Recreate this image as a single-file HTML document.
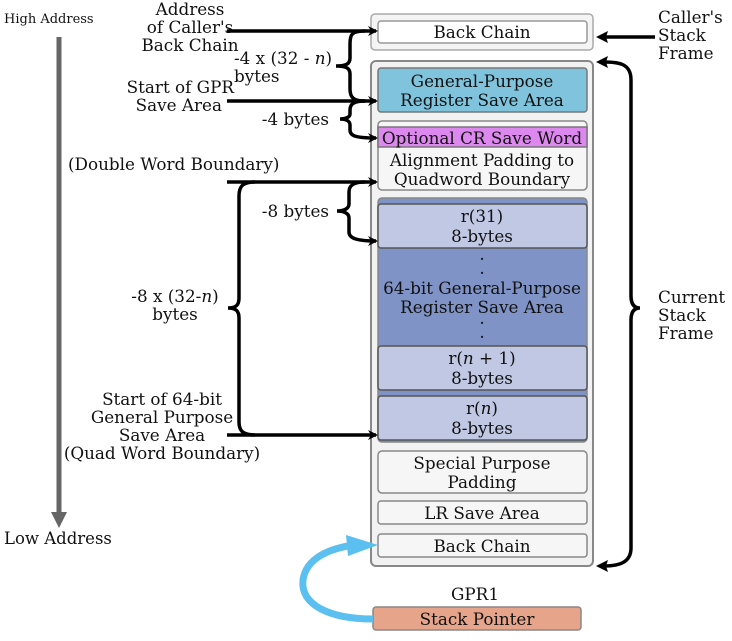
<!DOCTYPE html>
<html><head><meta charset="utf-8"><style>
body{margin:0;background:#fff}
svg{display:block}
</style></head><body>
<svg width="732" height="641" viewBox="0 0 732 641" font-family="DejaVu Serif, Liberation Serif, serif" font-size="16.8" fill="#111">
<defs>
<marker id="a" markerWidth="10" markerHeight="10" refX="8" refY="5" orient="auto" markerUnits="userSpaceOnUse"><path d="M0,0 L10,5 L0,10 L3,5 Z" fill="#000"/></marker>
</defs>
<!-- left address arrow -->
<text x="4" y="23" font-size="13">High Address</text>
<text x="4" y="544" font-size="16.5">Low Address</text>
<line x1="59" y1="37" x2="59" y2="515" stroke="#666" stroke-width="5"/>
<path d="M51,512 L67,512 L59,528 Z" fill="#666"/>

<!-- caller frame -->
<rect x="371" y="14" width="222" height="36" rx="4" fill="#f4f4f4" stroke="#aaa" stroke-width="1.5"/>
<rect x="378" y="21" width="209" height="22" rx="3" fill="#fff" stroke="#999" stroke-width="1.5"/>
<text x="482" y="38" text-anchor="middle">Back Chain</text>

<!-- current frame -->
<rect x="371" y="61" width="222" height="505" rx="5" fill="#f2f2f2" stroke="#888" stroke-width="2"/>
<rect x="378" y="68" width="209" height="44" rx="3" fill="#7fc4dc" stroke="#777" stroke-width="1.5"/>
<text x="482" y="87" text-anchor="middle">General-Purpose</text>
<text x="482" y="106" text-anchor="middle">Register Save Area</text>

<rect x="378" y="121" width="209" height="69" rx="4" fill="#f6f6f6" stroke="#888" stroke-width="1.5"/>
<rect x="378" y="127" width="209" height="20" fill="#dd88ee" stroke="#777" stroke-width="1.5"/>
<text x="482" y="144" text-anchor="middle">Optional CR Save Word</text>
<text x="482" y="166" text-anchor="middle">Alignment Padding to</text>
<text x="482" y="185" text-anchor="middle">Quadword Boundary</text>

<rect x="378" y="198" width="209" height="244" rx="4" fill="#7f93c6" stroke="#888" stroke-width="1.5"/>
<rect x="378" y="204" width="209" height="44" rx="3" fill="#c0c8e4" stroke="#555" stroke-width="1.5"/>
<text x="482" y="222" text-anchor="middle">r(31)</text>
<text x="482" y="242" text-anchor="middle">8-bytes</text>
<text x="482" y="260" text-anchor="middle">.</text>
<text x="482" y="274" text-anchor="middle">.</text>
<text x="482" y="294" text-anchor="middle">64-bit General-Purpose</text>
<text x="482" y="313" text-anchor="middle">Register Save Area</text>
<text x="482" y="324" text-anchor="middle">.</text>
<text x="482" y="338" text-anchor="middle">.</text>
<rect x="378" y="346" width="209" height="44" rx="3" fill="#c0c8e4" stroke="#555" stroke-width="1.5"/>
<text x="482" y="364" text-anchor="middle">r(<tspan font-style="italic">n</tspan> + 1)</text>
<text x="482" y="384" text-anchor="middle">8-bytes</text>
<rect x="378" y="396" width="209" height="44" rx="3" fill="#c0c8e4" stroke="#555" stroke-width="1.5"/>
<text x="482" y="414" text-anchor="middle">r(<tspan font-style="italic">n</tspan>)</text>
<text x="482" y="434" text-anchor="middle">8-bytes</text>

<rect x="378" y="451" width="209" height="42" rx="4" fill="#f6f6f6" stroke="#888" stroke-width="1.5"/>
<text x="482" y="469" text-anchor="middle">Special Purpose</text>
<text x="482" y="488" text-anchor="middle">Padding</text>
<rect x="378" y="501" width="209" height="23" rx="3" fill="#f6f6f6" stroke="#888" stroke-width="1.5"/>
<text x="482" y="519" text-anchor="middle">LR Save Area</text>
<rect x="378" y="534" width="209" height="23" rx="3" fill="#f6f6f6" stroke="#888" stroke-width="1.5"/>
<text x="482" y="552" text-anchor="middle">Back Chain</text>

<!-- stack pointer -->
<text x="475" y="600" text-anchor="middle">GPR1</text>
<rect x="373" y="607" width="208" height="23" rx="3" fill="#e6a58a" stroke="#888" stroke-width="1.5"/>
<text x="477" y="625" text-anchor="middle">Stack Pointer</text>
<path d="M373,619 C330,619 300,605 303,580 C306,558 330,548 355,545" fill="none" stroke="#5bc0f0" stroke-width="7"/>
<path d="M346,535 L378,545 L348,556 Z" fill="#5bc0f0"/>

<!-- left labels -->
<text x="190" y="15" text-anchor="middle">Address</text>
<text x="190" y="33" text-anchor="middle">of Caller's</text>
<text x="190" y="51" text-anchor="middle">Back Chain</text>
<text x="234" y="64">-4 x (32 - <tspan font-style="italic">n</tspan>)</text>
<text x="234" y="82">bytes</text>
<text x="234" y="93" text-anchor="end">Start of GPR</text>
<text x="222" y="111" text-anchor="end">Save Area</text>
<text x="329" y="125" text-anchor="end">-4 bytes</text>
<text x="68" y="170">(Double Word Boundary)</text>
<text x="329" y="217" text-anchor="end">-8 bytes</text>
<text x="175" y="302" text-anchor="middle">-8 x (32-<tspan font-style="italic">n</tspan>)</text>
<text x="175" y="320" text-anchor="middle">bytes</text>
<text x="162" y="405" text-anchor="middle">Start of 64-bit</text>
<text x="162" y="423" text-anchor="middle">General Purpose</text>
<text x="162" y="441" text-anchor="middle">Save Area</text>
<text x="162" y="459" text-anchor="middle">(Quad Word Boundary)</text>

<!-- arrows -->
<g stroke="#000" stroke-width="3.5" fill="none">
<line x1="227" y1="31" x2="376" y2="31" marker-end="url(#a)"/>
<line x1="227" y1="101" x2="376" y2="101" marker-end="url(#a)"/>
<line x1="227" y1="182" x2="376" y2="182" marker-end="url(#a)"/>
<line x1="227" y1="435" x2="376" y2="435" marker-end="url(#a)"/>
<path d="M365,31 C352,31 350,34 350,44 L350,58 C350,64 346,66 336,66 C346,66 350,68 350,74 L350,89 C350,98 354,101 365,101"/>
<path d="M365,101 C354,101 350,104 350,110 L350,114 C350,117 346,119 340,119 C346,119 350,121 350,125 L350,130 C350,136 356,138 376,138" marker-end="url(#a)"/>
<path d="M365,182 C354,182 349,185 349,192 L349,204 C349,208 345,211 337,211 C345,211 349,214 349,218 L349,232 C349,238 356,241 376,241" marker-end="url(#a)"/>
<path d="M255,182 C243,182 239,186 239,196 L239,298 C239,305 236,308 228,308 C236,308 239,311 239,318 L239,422 C239,431 243,435 255,435"/>
<path d="M600,37 L655,37"/>
<path d="M604,62 C620,62 631,64 631,80 L631,296 C631,304 634,308 640,308 C634,308 631,312 631,320 L631,548 C631,562 620,566 604,566"/>
</g>
<path d="M596,37 L608,31 L606,37 L608,43 Z" fill="#000"/>
<path d="M596,62 L608,56 L606,62 L608,68 Z" fill="#000"/>
<path d="M596,566 L608,560 L606,566 L608,572 Z" fill="#000"/>

<!-- right labels -->
<text x="658" y="23">Caller's</text>
<text x="658" y="41">Stack</text>
<text x="658" y="59">Frame</text>
<text x="658" y="303">Current</text>
<text x="658" y="321">Stack</text>
<text x="658" y="339">Frame</text>
</svg>
</body></html>
